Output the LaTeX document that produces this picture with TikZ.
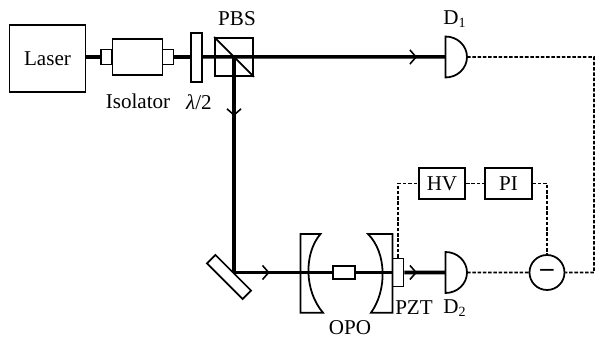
\documentclass[tikz,border=0pt]{standalone}
\usepackage{fontspec}
\setmainfont{Liberation Serif}
\usetikzlibrary{arrows.meta,decorations.markings}

\tikzset{
  part/.style={draw, line width=1pt, inner sep=0pt, minimum width=#1},
  part/.default=0.22cm,
  beam/.style={line width=2pt},
  signal/.style={line width=1pt, dash pattern=on 2pt off 1pt},
  arrowat/.style={postaction={decorate, decoration={markings,
    mark=at position #1 with {\arrow[line width=0.9pt]{Straight Barb[length=3.5pt,width=8pt]}}}}},
  label/.style={inner sep=0pt, font=\fontsize{12}{14}\selectfont}
}

\begin{document}
\begin{tikzpicture}

    \useasboundingbox (0,0) rectangle (11.94,6.76);

    \node[part=1.52cm, minimum height=1.34cm, label] (laser) at (0.95,5.59) {Laser};

    \node[part, minimum height=0.30cm] (isoleft) at (2.13,5.62) {};
    \node[part=1cm, minimum height=0.72cm] (isolator) at (2.75,5.62) {};
    \node[part, minimum height=0.30cm] (isoright) at (3.36,5.62) {};
    \node[part, minimum height=0.98cm] (plate) at (3.93,5.61) {};

    \node[part=0.76cm, minimum height=0.76cm] (pbs) at (4.68,5.62) {};
    \draw[line width=1pt] (pbs.north west) -- (pbs.south east);

    \node[part=1.01cm, minimum height=0.24cm, rotate=-45] (mirror) at (4.58,1.22) {};
    \coordinate (turn) at (4.68,1.31);

    \begin{scope}[xshift=8.91cm,yshift=5.62cm]
      \draw[line width=1pt] (0,0.41) arc [start angle=90, end angle=-90, x radius=0.43, y radius=0.41] -- cycle;
      \coordinate (done) at (0,0);
      \coordinate (doneout) at (0.43,0);
    \end{scope}

    \begin{scope}[xshift=8.91cm,yshift=1.31cm]
      \draw[line width=1pt] (0,0.41) arc [start angle=90, end angle=-90, x radius=0.43, y radius=0.41] -- cycle;
      \coordinate (dtwo) at (0,0);
      \coordinate (dtwoout) at (0.43,0);
    \end{scope}

    \draw[line width=1pt] (6.01,2.08) -- (6.41,2.08) .. controls (6.08,1.7) and (6.08,0.95) .. (6.46,0.506) -- (6.01,0.506) -- cycle;
    \draw[line width=1pt] (7.85,2.08) -- (7.36,2.08) .. controls (7.74,1.7) and (7.74,0.95) .. (7.42,0.506) -- (7.85,0.506) -- cycle;

    \node[part=0.43cm, minimum height=0.26cm] (crystal) at (6.88,1.31) {};
    \node[part, minimum height=0.56cm] (pzt) at (7.96,1.31) {};

    \node[part=0.93cm, minimum height=0.62cm, label] (hv) at (8.84,3.09) {HV};
    \node[part=0.93cm, minimum height=0.62cm, label] (pi) at (10.17,3.09) {PI};
    \node[draw, circle, line width=1pt, minimum size=0.70cm, inner sep=0pt, font=\fontsize{15}{15}\selectfont\bfseries] (minus) at (10.94,1.31) {–};
    \coordinate (corner) at (11.88,5.62);

    \draw[beam] (laser.east |- isoleft) -- (isoleft.west);
    \draw[beam] (isoright.east) -- (plate.west |- isoright);
    \draw[beam, arrowat=0.883] (plate.east |- pbs) -- (done);
    \draw[beam, arrowat=0.274] (pbs.center) -- (turn);
    \draw[beam, arrowat=0.363] (turn) -- (crystal.west);
    \draw[beam] (crystal.east) -- (pzt.west);
    \draw[beam, arrowat=0.31] (pzt.east) -- (dtwo);

    \draw[signal] (doneout) -- (corner) |- (minus.east);
    \draw[signal] (dtwoout) -- (minus.west);
    \draw[signal] (pzt.north) |- (hv.west);
    \draw[signal] (hv.east) -- (pi.west);
    \draw[signal] (pi.east) -| (minus.north);

    \node[label] (isolabel) at (2.76,4.73) {Isolator};
    \node[label] (platelabel) at (3.98,4.72) {\textit{λ}/2};
    \node[label] (pbslabel) at (4.74,6.38) {PBS};
    \node[label] (donelabel) at (9.10,6.38) {D\textsubscript{1}};
    \node[label] (dtwolabel) at (9.10,0.60) {D\textsubscript{2}};
    \node[label] (pztlabel) at (8.28,0.60) {PZT};
    \node[label] (opolabel) at (7.00,0.20) {OPO};

  \end{tikzpicture}
\end{document}
